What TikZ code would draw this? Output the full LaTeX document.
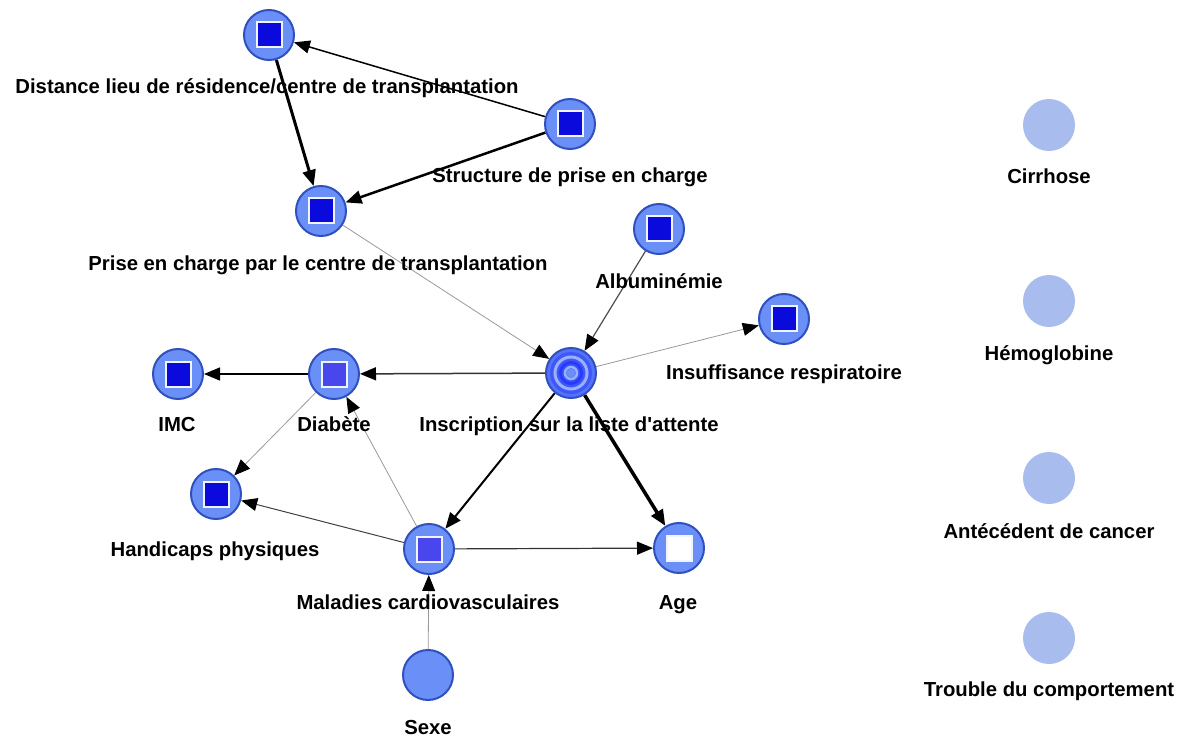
\documentclass[tikz,border=0pt]{standalone}
\usepackage{fontspec}
\setmainfont{Liberation Sans}
\usetikzlibrary{arrows.meta}
\pgfdeclarelayer{background}
\pgfsetlayers{background,main}
\definecolor{nfill}{HTML}{6A90F8}
\definecolor{nborder}{HTML}{3050C0}
\definecolor{sqdark}{HTML}{0A0ADC}
\definecolor{sqmid}{HTML}{4A46EE}
\definecolor{gfill}{HTML}{A8BCEE}
\definecolor{thin}{HTML}{999999}
\tikzset{
  bnode/.style={circle, minimum size=50pt, inner sep=0pt, fill=nfill, draw=nborder, line width=2pt},
  sqnode/.style={bnode, path picture={
      \fill[white!90!nfill] ([shift={(-13.5pt,-13.5pt)}]path picture bounding box.center) rectangle ([shift={(13.5pt,13.5pt)}]path picture bounding box.center);
      \fill[#1] ([shift={(-11.5pt,-11.5pt)}]path picture bounding box.center) rectangle ([shift={(11.5pt,11.5pt)}]path picture bounding box.center);}},
  gnode/.style={circle, minimum size=52pt, inner sep=0pt, fill=gfill},
  lbl/.style={font=\bfseries\fontsize{20.3}{21}\selectfont, anchor=base, inner sep=0pt},
  arr/.style={-{Triangle[length=16pt,width=13pt,color=black]}, line width=#1},
  arr/.default=1.5pt,
  gar/.style={arr=0.8pt, draw=thin},
}
\begin{document}
\begin{tikzpicture}[x=1pt,y=-1pt]
\useasboundingbox (0,0) rectangle (1187,738);
% nodes
\node[sqnode=sqdark] (dist) at (269,35) {};
\node[sqnode=sqdark] (struct) at (570,124) {};
\node[sqnode=sqdark] (prise) at (321,211) {};
\node[sqnode=sqdark] (albu) at (659,229) {};
\node[sqnode=sqdark] (insuf) at (784,319) {};
\node[bnode, fill=nfill!80!blue, draw=nborder] (inscr) at (571,373) {};
\fill[nfill!60!blue] (inscr.center) circle (21pt);
\draw[white!30!nfill, line width=3pt] (inscr.center) circle (16pt);
\draw[nfill!40!blue, line width=3pt] (inscr.center) circle (10.5pt);
\draw[white!30!nfill, line width=2.5pt] (inscr.center) circle (6pt);
\fill[nfill] (inscr.center) circle (4.5pt);
\node[sqnode=sqdark] (imc) at (178,374) {};
\node[sqnode=sqmid] (diab) at (334,374) {};
\node[sqnode=sqdark] (handi) at (216,494) {};
\node[sqnode=sqmid] (mal) at (429,549) {};
\node[sqnode=white] (age) at (679,548) {};
\node[bnode] (sexe) at (428,675) {};
\node[gnode] (cirr) at (1049,125) {};
\node[gnode] (hemo) at (1049,301) {};
\node[gnode] (ante) at (1049,478) {};
\node[gnode] (troub) at (1049,638) {};
% edges
\begin{pgfonlayer}{background}
\draw[arr=1.5pt] (struct) -- (dist);
\draw[arr=3pt] (dist) -- (prise);
\draw[arr=2.5pt] (struct) -- (prise);
\draw[gar] (prise) -- (inscr);
\draw[arr=1.2pt, draw=black!70] (albu) -- (inscr);
\draw[gar] (inscr) -- (insuf);
\draw[arr=1.5pt, draw=black!80] (inscr) -- (diab);
\draw[arr=1.5pt] (diab) -- (imc);
\draw[gar] (diab) -- (handi);
\draw[arr=1pt, draw=black!75] (mal) -- (handi);
\draw[gar] (mal) -- (diab);
\draw[arr=2pt] (inscr) -- (mal);
\draw[arr=3.5pt] (inscr) -- (age);
\draw[arr=1.2pt, draw=black!80] (mal) -- (age);
\draw[gar] (sexe) -- (mal);
\end{pgfonlayer}
% labels
\node[lbl] (ldist) at (267,94) {Distance lieu de résidence/centre de transplantation};
\node[lbl] (lstruct) at (570,183) {Structure de prise en charge};
\node[lbl] (lprise) at (318,271) {Prise en charge par le centre de transplantation};
\node[lbl] (lalbu) at (659,289) {Albuminémie};
\node[lbl] (linsuf) at (784,379) {Insuffisance respiratoire};
\node[lbl] (linscr) at (569,431) {Inscription sur la liste d\textquotesingle attente};
\node[lbl] (limc) at (177,431) {IMC};
\node[lbl] (ldiab) at (334,431) {Diabète};
\node[lbl] (lhandi) at (215,556) {Handicaps physiques};
\node[lbl] (lmal) at (428,609) {Maladies cardiovasculaires};
\node[lbl] (lage) at (678,609) {Age};
\node[lbl] (lsexe) at (428,734) {Sexe};
\node[lbl] (lcirr) at (1049,184) {Cirrhose};
\node[lbl] (lhemo) at (1049,360) {Hémoglobine};
\node[lbl] (lante) at (1049,538) {Antécédent de cancer};
\node[lbl] (ltroub) at (1049,696) {Trouble du comportement};
\end{tikzpicture}
\end{document}
